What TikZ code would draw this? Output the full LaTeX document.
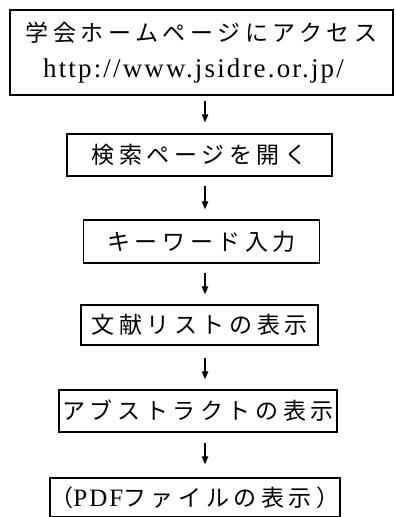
\documentclass[tikz,border=0pt]{standalone}
\usepackage{fontspec}
\usetikzlibrary{arrows.meta}
\setmainfont{Liberation Serif}
\newfontfamily\jpfont[LetterSpace=20]{Noto Sans CJK JP}
\newfontfamily\urlserif[LetterSpace=8]{Liberation Serif}
\newcommand{\jptext}[1]{{\fontsize{23bp}{26bp}\selectfont\jpfont #1}}
\begin{document}
\begin{tikzpicture}[x=1bp,y=-1bp,
  stepbox/.style={draw, line width=1.4bp, inner sep=0pt, anchor=center, align=center},
  flow/.style={-{Triangle[length=8bp,width=6.5bp]}, line width=1.3bp}]
\useasboundingbox (0,0) rectangle (395,517);
\coordinate (ax) at (205,0);
\node[stepbox, minimum width=383bp, minimum height=85bp] (b1) at (201.5,52.5)
  {\jptext{学会ホームページにアクセス}\\[15bp]\kern-16bp{\fontsize{27bp}{28bp}\selectfont\urlserif http://www.jsidre.or.jp/}};
\node[stepbox, minimum width=265bp, minimum height=42bp] (b2) at (199.5,155) {\jptext{検索ページを開く}};
\node[stepbox, minimum width=236bp, minimum height=43bp] (b3) at (201.5,241.5) {\jptext{キーワード入力}};
\node[stepbox, minimum width=237bp, minimum height=40bp] (b4) at (199.5,325) {\jptext{文献リストの表示}};
\node[stepbox, minimum width=278bp, minimum height=42bp] (b5) at (198,411) {\jptext{アブストラクトの表示}};
\node[stepbox, minimum width=290bp, minimum height=39bp] (b6) at (195,497.5)
  {\jptext{（}{\fontsize{25bp}{25bp}\selectfont\urlserif PDF}\jptext{ファイルの表示）}};
\draw[flow, shorten <=5bp, shorten >=11bp] (b1.south -| ax) -- (b2.north -| ax);
\draw[flow, shorten <=9bp, shorten >=10bp] (b2.south -| ax) -- (b3.north -| ax);
\draw[flow, shorten <=9bp, shorten >=10bp] (b3.south -| ax) -- (b4.north -| ax);
\draw[flow, shorten <=12bp, shorten >=10bp] (b4.south -| ax) -- (b5.north -| ax);
\draw[flow, shorten <=10bp, shorten >=13bp] (b5.south -| ax) -- (b6.north -| ax);
\end{tikzpicture}
\end{document}
